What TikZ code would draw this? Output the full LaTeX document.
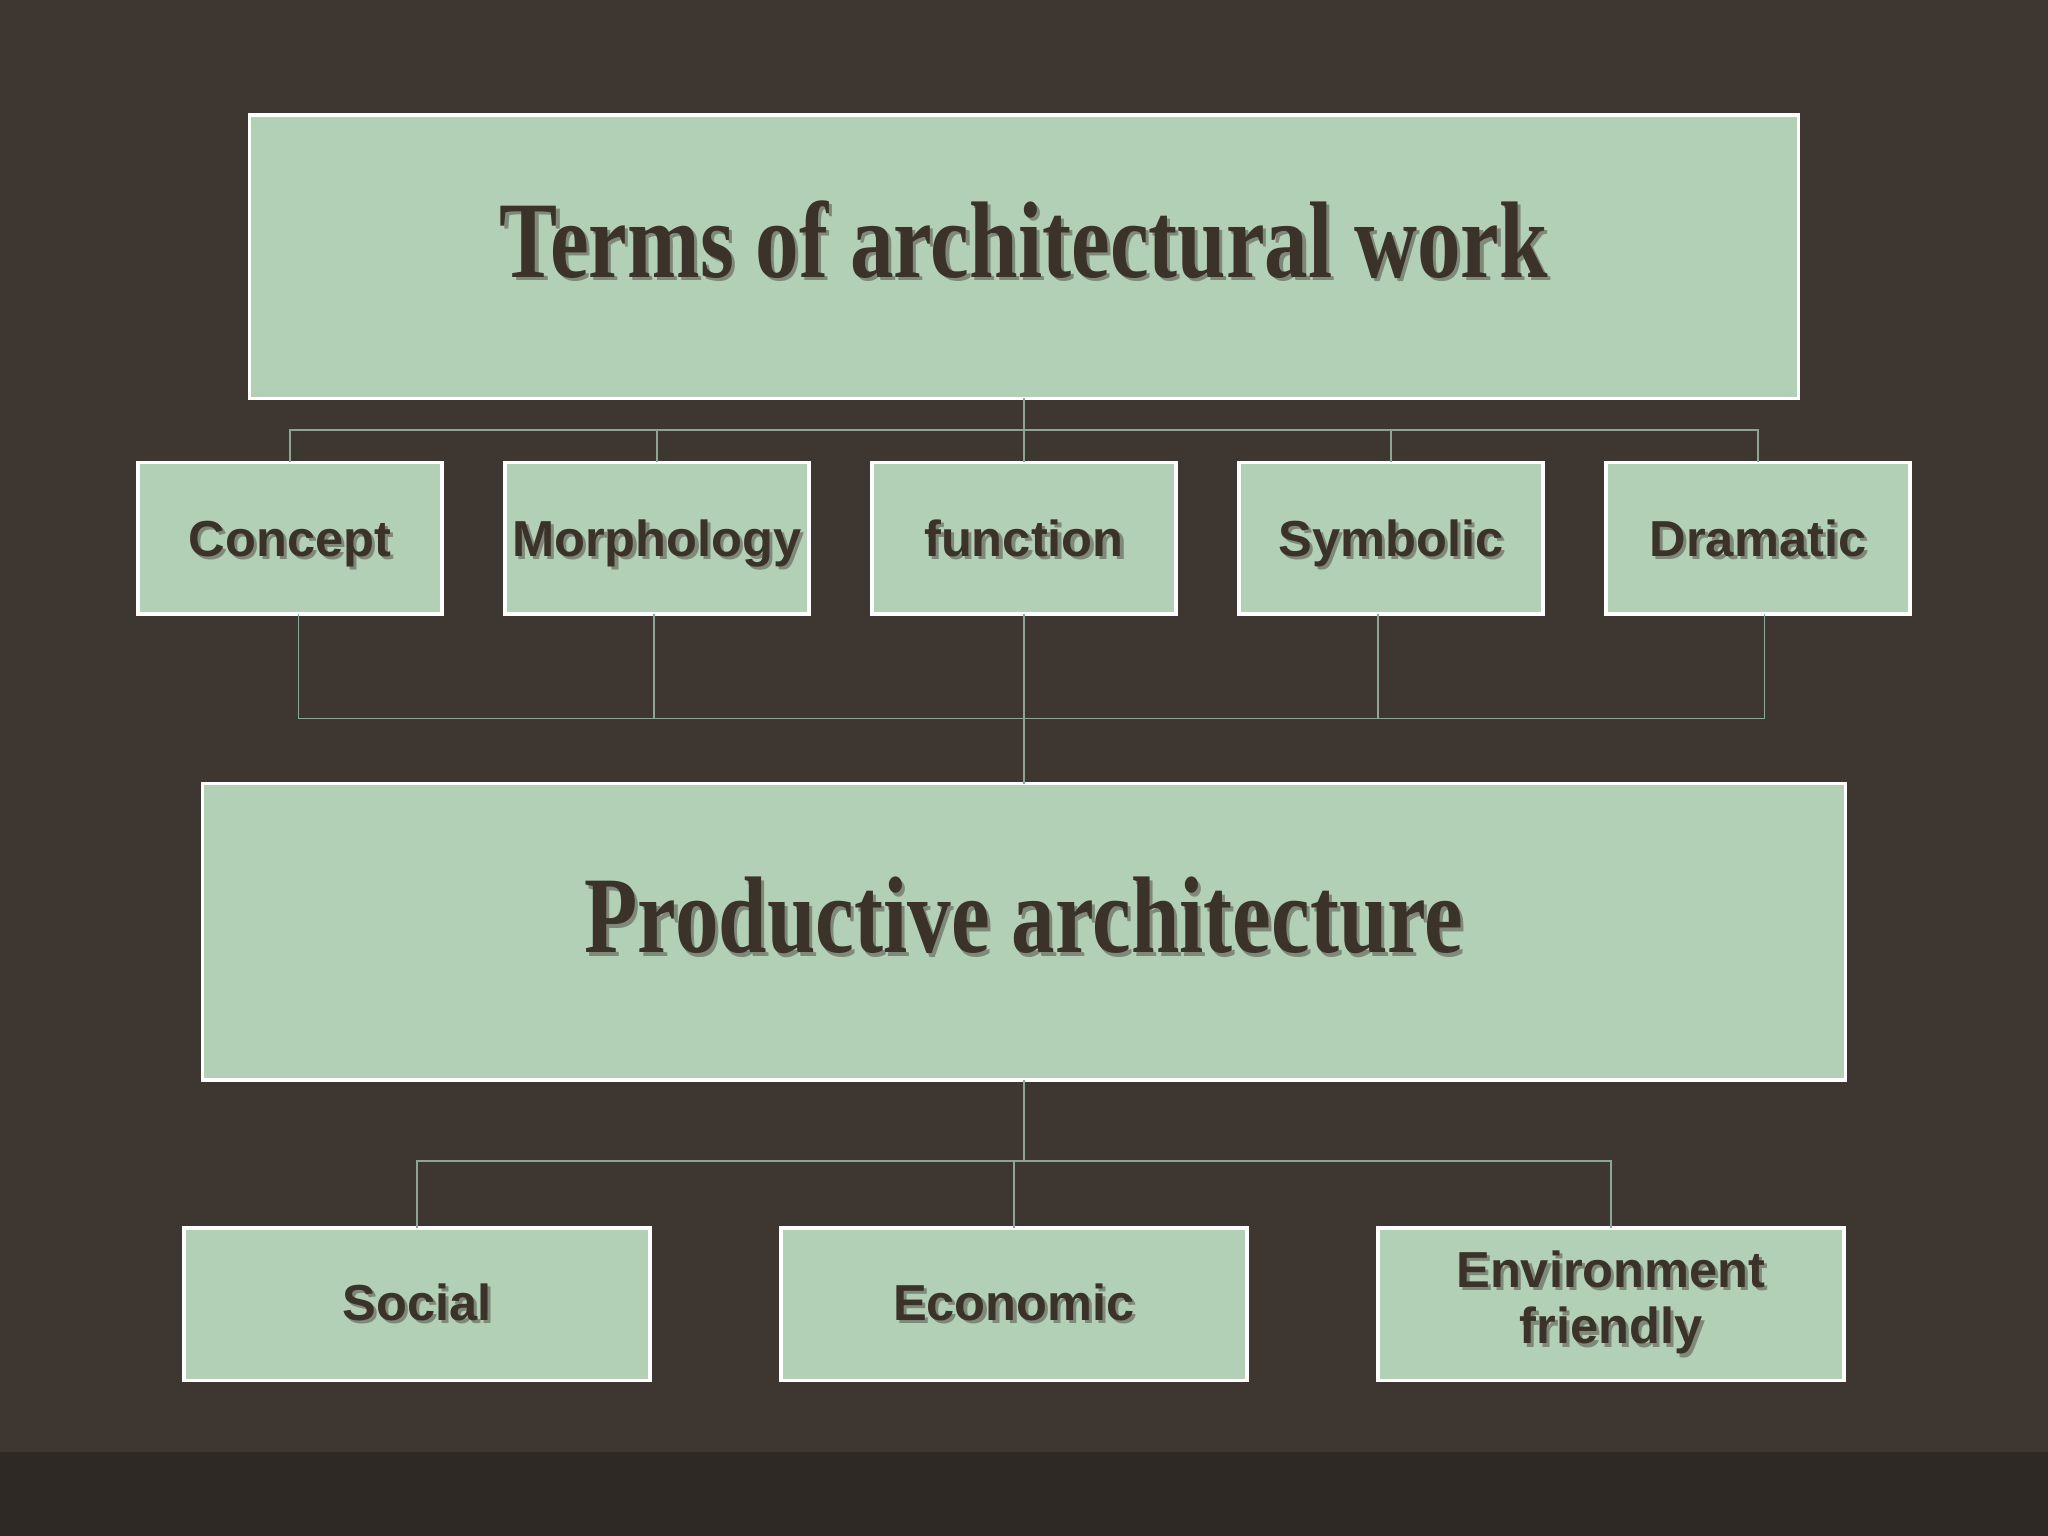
\documentclass[tikz,border=0pt]{standalone}
\usepackage{fontspec}
\usetikzlibrary{positioning}
\newfontfamily\labelfont{Liberation Sans}
\newfontfamily\titlefont{Liberation Serif}[FakeStretch=0.8]
\definecolor{slide}{RGB}{61,54,49}
\definecolor{slidefoot}{RGB}{47,41,37}
\definecolor{sage}{RGB}{178,208,181}
\definecolor{ink}{RGB}{59,51,41}
\definecolor{inkshade}{RGB}{128,136,122}
\definecolor{wirecol}{RGB}{140,165,150}
\newcommand\shadowed[1]{\rlap{\kern0.9pt\raisebox{-0.9pt}{\color{inkshade}#1}}#1}
\tikzset{
card/.style={draw=white, line width=1pt, fill=sage, outer sep=0pt, inner sep=1pt, text=ink},
headcard/.style={card, minimum width=15.49cm, minimum height=2.835cm, text height=0.74cm, text depth=0.32cm, font=\titlefont\bfseries\fontsize{31}{34}\selectfont},
termcard/.style={card, minimum width=3.043cm, minimum height=1.515cm, text height=0.5cm, text depth=0.14cm, font=\labelfont\bfseries\fontsize{14.4}{16}\selectfont},
aimcard/.style={card, minimum width=4.663cm, minimum height=1.528cm, align=center, font=\labelfont\bfseries\fontsize{14.4}{16}\selectfont},
link/.style={draw=wirecol, line width=0.5pt}
}
\begin{document}
\begin{tikzpicture}
\fill[slide] (0,0) rectangle (20.48,15.36);
\fill[slidefoot] (0,0) rectangle (20.48,0.836);
\node[headcard](terms) at (10.24,12.793) {\shadowed{Terms of architectural work}};
\node[termcard, below=0.64cm of terms](func) {\shadowed{function}};
\node[termcard, left=0.627cm of func](morph) {\shadowed{Morphology}};
\node[termcard, left=0.627cm of morph](concept) {\shadowed{Concept}};
\node[termcard, right=0.627cm of func](symb) {\shadowed{Symbolic}};
\node[termcard, right=0.627cm of symb](dram) {\shadowed{Dramatic}};
\node[headcard, minimum width=16.43cm, minimum height=2.965cm, below=1.698cm of func](prod) {\shadowed{Productive architecture}};
\node[aimcard, below=1.4765cm of prod, xshift=-0.1cm](econ) {\shadowed{Economic}};
\node[aimcard, left=1.306cm of econ](social) {\shadowed{Social}};
\node[aimcard, right=1.306cm of econ](env) {\shadowed{Environment}\\\shadowed{friendly}};
\foreach \n in {concept,morph,func,symb,dram}
  \draw[link] (terms.south) -- ++(0,-0.3125) -| (\n.north);
\foreach \n/\dx in {concept/0.085,morph/-0.033,func/0,symb/-0.13,dram/0.065}
  \draw[link] ([xshift=\dx cm]\n.south) -- ++(0,-1.0455) -| (prod.north);
\foreach \n in {social,econ,env}
  \draw[link] (prod.south) -- ++(0,-0.8095) -| (\n.north);
\end{tikzpicture}
\end{document}
